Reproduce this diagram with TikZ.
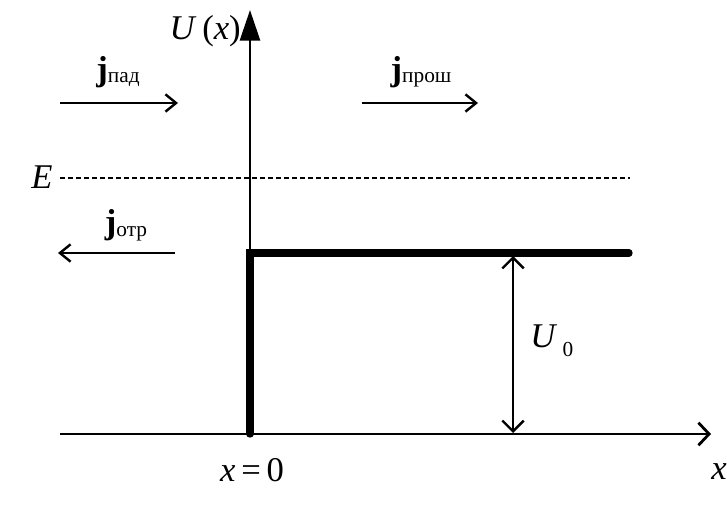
\documentclass[tikz,border=0pt]{standalone}
\usepackage{fontspec}
\setmainfont{Liberation Serif}
\usetikzlibrary{positioning,arrows.meta}
\newcommand{\vr}[1]{\textit{#1}}
\newcommand{\sub}[2][-2pt]{\raisebox{#1}{\fontsize{16}{18}\selectfont #2}}
\tikzset{
  axis/.style    = {line width=2.1pt, -{Straight Barb[length=8pt, width=17pt, line width=2.1pt]}},
  yaxis/.style   = {line width=2.1pt, -{Triangle[length=23pt, width=15pt]}},
  barrier/.style = {line width=5.5pt, line cap=round, line join=miter},
  level/.style   = {line width=1.9pt, dash pattern=on 3.8pt off 2.2pt},
  flow/.style    = {line width=1.8pt, -{Straight Barb[length=8pt, width=13pt, line width=1.8pt]}},
  gap/.style     = {line width=1.8pt, {Straight Barb[length=8pt, width=16pt, line width=1.8pt]}-{Straight Barb[length=8pt, width=16pt, line width=1.8pt]}},
  lbl/.style     = {inner sep=0pt, font=\fontsize{26}{30}\selectfont},
}
\begin{document}
\begin{tikzpicture}[x=0.75pt, y=-0.75pt]
  \useasboundingbox (0,0) rectangle (727,505);
  % axes
  \coordinate (xl) at (60,434);
  \coordinate (o) at (250,434);
  \coordinate (xr) at (711,434);
  \coordinate (ytop) at (250,10);
  \draw[axis] (xl) -- (xr);
  \draw[yaxis] (o) -- (ytop);
  \node[lbl, anchor=east] (ulbl) at (241,31) {\vr{U}\,(\vr{x})};
  \node[lbl] (xlbl) at (719,472) {\vr{x}};
  \node[lbl] (x0) at (252,470) {\vr{x}\,=\,0};
  % step potential
  \coordinate (corner) at (250,253);
  \coordinate (stepend) at (629,253);
  \draw[barrier] (o) -- (corner) -- (stepend);
  % energy level
  \coordinate (el) at (60,178);
  \coordinate (er) at (630,178);
  \draw[level] (el) -- (er);
  \node[lbl] (elbl) at (42,177) {\vr{E}};
  % height of the step
  \coordinate (ut) at (513,256);
  \coordinate (ub) at (513,433);
  \draw[gap] (ut) -- (ub);
  \node[lbl, anchor=west] (u0) at (530,341) {\vr{U}\hspace{4pt}\sub[-7pt]{0}};
  % currents
  \coordinate (pads) at (60,103);
  \coordinate (pade) at (178,103);
  \draw[flow] (pads) -- (pade);
  \node[lbl] (jpad) at (118,72) {\textbf{j}\sub{пад}};
  \coordinate (pros) at (362,103);
  \coordinate (proe) at (478,103);
  \draw[flow] (pros) -- (proe);
  \node[lbl] (jpro) at (421,72) {\textbf{j}\sub{прош}};
  \coordinate (otrs) at (175,253);
  \coordinate (otre) at (58,253);
  \draw[flow] (otrs) -- (otre);
  \node[lbl] (jotr) at (126,225) {\textbf{j}\sub{отр}};
\end{tikzpicture}
\end{document}
